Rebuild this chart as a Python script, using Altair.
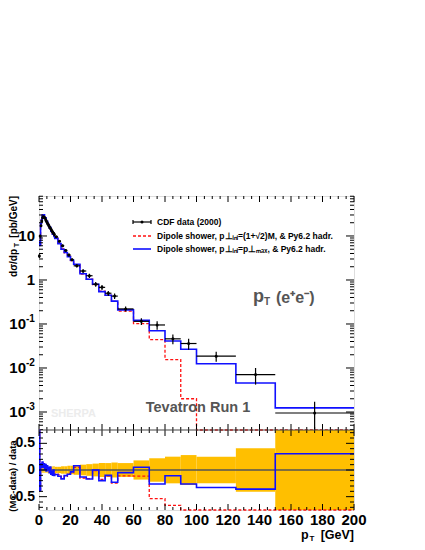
import altair as alt
import pandas as pd

# ---------------- data ----------------
edges = [0, 0.5, 1, 1.5, 2, 2.5, 3, 3.5, 4, 4.5, 5, 5.5, 6, 6.5, 7, 7.5, 8, 8.5, 9, 9.5, 10,
         12, 14, 16, 18, 20, 22, 26, 30, 34, 38, 42, 46, 50, 60, 70, 80, 90, 100, 125, 150, 200]

cdf_data = [3.5, 10, 17, 22, 26, 27.5, 27, 25.5, 23.5, 21.5, 20, 18.5, 17, 16, 15, 14, 13, 12.2, 11.5, 10.8,
            9.6, 7.6, 6.0, 4.7, 3.7, 2.9,
            2.1, 1.6, 1.25, 0.8, 0.68, 0.5, 0.43,
            0.22, 0.115, 0.095, 0.046, 0.036,
            0.0186, 0.0071, 0.00095]

cdf_rel_err = [0.10, 0.07, 0.06, 0.05, 0.05, 0.05, 0.05, 0.05, 0.05, 0.05, 0.05, 0.06, 0.06, 0.06, 0.06, 0.06,
               0.06, 0.07, 0.07, 0.07,
               0.06, 0.06, 0.07, 0.07, 0.08, 0.08,
               0.09, 0.10, 0.11, 0.12, 0.13, 0.13, 0.14,
               0.13, 0.18, 0.22, 0.25, 0.28,
               0.25, 0.41, 0.80]

dipole_pmax = [7.4, 6.1, 19.0, 23.1, 29.9, 28.9, 30.2, 26.0, 25.9, 21.1, 21.6, 18.5, 17.9, 15.2, 15.8, 12.9,
               12.7, 11.0, 11.5, 9.7,
               8.8, 6.7, 5.0, 4.2, 3.4, 2.8,
               2.27, 1.39, 1.04, 0.80, 0.544, 0.45, 0.331,
               0.209, 0.121, 0.070, 0.041, 0.0266,
               0.0125, 0.00455, 0.00124]

dipole_sqrt2 = [7.6, 6.3, 18.5, 23.5, 29.5, 29.2, 29.8, 26.3, 25.5, 21.4, 21.0, 18.8, 17.6, 15.4, 15.5, 13.1,
                12.5, 11.2, 11.3, 9.9,
                8.9, 6.9, 5.1, 4.15, 3.45, 2.75,
                2.2, 1.36, 1.05, 0.79, 0.56, 0.445, 0.325,
                0.196, 0.102, 0.044, 0.0155, 0.002,
                0, 0, 0]

# tick positions and labels
x_major = list(range(0, 201, 20))
x_major_labels = [str(v) for v in x_major]
x_minor = [v for v in range(0, 201, 5) if v % 20]
y_main_major = [0.001, 0.01, 0.1, 1, 10]
y_main_base = ["10", "10", "10", "1", "10"]
y_main_exp = ["-3", "-2", "-1", "", ""]
y_main_minor = [k * 10.0 ** e for e in range(-4, 2) for k in range(2, 10) if 3.9e-4 <= k * 10.0 ** e <= 81]
ratio_major = [-0.5, 0, 0.5]
ratio_major_labels = ["-0.5", "0", "0.5"]
ratio_minor = [-0.7, -0.6, -0.4, -0.3, -0.2, -0.1, 0.1, 0.2, 0.3, 0.4, 0.6, 0.7]

# ---------------- layout constants ----------------
W, HM, HR = 315, 234, 80
H = HM + HR
FONT = "Liberation Sans"
BLUE = "#1010ff"
RED = "#ff1010"
ORANGE = "#ffbf00"
GREY = "#555555"

bins = pd.DataFrame({"lo": edges[:-1], "hi": edges[1:], "d": cdf_data, "rel": cdf_rel_err,
                     "blue": dipole_pmax, "red": dipole_sqrt2})
bins["c"] = (bins.lo + bins.hi) / 2
bins["dlo"] = bins.d * (1 - bins.rel)
bins["dhi"] = bins.d * (1 + bins.rel)
bins["nrel"] = -bins.rel
bins["rb"] = bins.blue / bins.d - 1
bins["rr"] = bins.red / bins.d - 1


def steps(col):
    vals = list(bins[col])
    return pd.DataFrame({"x": edges, "y": vals + [vals[-1]]})


xs = alt.Scale(domain=[0, 200], nice=False, zero=False)
ys_main = alt.Scale(type="log", domain=[3.9e-4, 81], range=[HM, 0], clamp=True, nice=False)
ys_ratio = alt.Scale(domain=[-0.75, 0.75], range=[H, HM], clamp=True, nice=False, zero=False)

XN = lambda f: alt.X(f, scale=xs, axis=None)
YM = lambda f: alt.Y(f, scale=ys_main, axis=None)
YR = lambda f: alt.Y(f, scale=ys_ratio, axis=None)


def txt(s, x, y, size, color="black", align="left", angle=0, weight="bold", baseline="middle"):
    return alt.Chart(alt.Data(values=[{}])).mark_text(
        text=s, align=align, baseline=baseline, fontSize=size, fontWeight=weight,
        color=color, font=FONT, angle=angle).encode(x=alt.value(x), y=alt.value(y))


def hline(x1, x2, y, color="black", width=1.2, dash=None):
    kw = dict(color=color, strokeWidth=width)
    if dash:
        kw["strokeDash"] = dash
    return alt.Chart(alt.Data(values=[{}])).mark_rule(**kw).encode(
        x=alt.value(x1), x2=alt.value(x2), y=alt.value(y))


def vline(x, y1, y2, color="black", width=1.2):
    return alt.Chart(alt.Data(values=[{}])).mark_rule(color=color, strokeWidth=width).encode(
        x=alt.value(x), y=alt.value(y1), y2=alt.value(y2))


def xticks(vals, y1, y2):
    return alt.Chart(pd.DataFrame({"v": vals})).mark_rule(color="black", strokeWidth=1).encode(
        x=XN("v:Q"), y=alt.value(y1), y2=alt.value(y2))


def yticks(vals, Yf, L):
    df = pd.DataFrame({"v": vals})
    left = alt.Chart(df).mark_rule(color="black", strokeWidth=1).encode(
        y=Yf("v:Q"), x=alt.value(0), x2=alt.value(L))
    right = alt.Chart(df).mark_rule(color="black", strokeWidth=1).encode(
        y=Yf("v:Q"), x=alt.value(W), x2=alt.value(W - L))
    return [left, right]


LBL = dict(font=FONT, fontWeight="bold", color="black")

# ---------------- main panel ----------------
blue_main = alt.Chart(steps("blue")).mark_line(
    interpolate="step-after", color=BLUE, strokeWidth=1.6, clip=True).encode(
    x=XN("x:Q"), y=YM("y:Q"))

red_main = alt.Chart(steps("red")).transform_calculate(yy="max(datum.y, 1e-6)").mark_line(
    interpolate="step-after", color=RED, strokeWidth=1.3, strokeDash=[3, 2], clip=True).encode(
    x=XN("x:Q"), y=YM("yy:Q"))

data_h = alt.Chart(bins).mark_rule(color="black", strokeWidth=1.2).encode(
    x=XN("lo:Q"), x2="hi:Q", y=YM("d:Q"))
data_v = alt.Chart(bins).mark_rule(color="black", strokeWidth=1.2).encode(
    x=XN("c:Q"), y=YM("dlo:Q"), y2="dhi:Q")
data_p = alt.Chart(bins).mark_circle(color="black", size=9, opacity=1).encode(
    x=XN("c:Q"), y=YM("d:Q"))

# y labels of the main panel (10 with superscript exponent)
ylab = pd.DataFrame({"v": y_main_major, "base": y_main_base, "exp": y_main_exp})
ylab_plain = alt.Chart(ylab).transform_filter("datum.exp == ''").mark_text(
    align="right", baseline="middle", fontSize=15, **LBL).encode(
    y=YM("v:Q"), x=alt.value(-4), text="base:N")
ylab_base = alt.Chart(ylab).transform_filter("datum.exp != ''").mark_text(
    align="right", baseline="middle", fontSize=15, **LBL).encode(
    y=YM("v:Q"), x=alt.value(-13), text="base:N")
ylab_exp = alt.Chart(ylab).transform_filter("datum.exp != ''").mark_text(
    align="left", baseline="middle", fontSize=10, dy=-5, **LBL).encode(
    y=YM("v:Q"), x=alt.value(-13), text="exp:N")

main_layers = [red_main, blue_main, data_h, data_v, data_p, ylab_plain, ylab_base, ylab_exp,
               xticks(x_major, 0, 6), xticks(x_minor, 0, 3),
               xticks(x_major, HM, HM - 6), xticks(x_minor, HM, HM - 3)]
main_layers += yticks(y_main_major, YM, 8) + yticks(y_main_minor, YM, 4)

# texts & legend inside main panel
main_layers += [
    txt("SHERPA", 12, 218, 11, color="#ececec"),
    txt("Tevatron Run 1", 159, 212, 14.5, color=GREY, align="center"),
    txt("p", 214, 101, 18, color=GREY),
    txt("T", 225, 106, 10, color=GREY),
    txt("(e⁺e⁻)", 237, 102, 16, color=GREY),
    # legend
    hline(94, 112, 26), vline(94, 24, 28), vline(112, 24, 28),
    txt("CDF data (2000)", 118, 26, 8.5),
    hline(94, 112, 40, color=RED, width=1.3, dash=[3, 2]),
    txt("Dipole shower, p⊥ᵢₙᵢ=(1+√2)M,  & Py6.2 hadr.", 118, 40, 8.5),
    hline(94, 112, 53, color=BLUE, width=1.6),
    txt("Dipole shower, p⊥ᵢₙᵢ=p⊥ₘₐₓ,  & Py6.2 hadr.", 118, 53, 8.5),
    # y title (rotated, ends at top of frame)
    txt("[pb/GeV]", -25.5, 0, 10, align="right", angle=270),
    txt("T", -22.5, 47, 7, align="right", angle=270),
    txt("dσ/dp", -25.5, 53, 10, align="right", angle=270),
]
legend_dot = alt.Chart(alt.Data(values=[{}])).mark_circle(color="black", size=9, opacity=1).encode(
    x=alt.value(103), y=alt.value(26))
main_layers.append(legend_dot)

main = alt.layer(*main_layers)

# ---------------- ratio panel ----------------
band = alt.Chart(bins).mark_rect(color=ORANGE, stroke=None, clip=True).encode(
    x=XN("lo:Q"), x2="hi:Q", y=YR("nrel:Q"), y2="rel:Q")
zero = alt.Chart(pd.DataFrame({"z": [0]})).mark_rule(color=GREY, strokeWidth=1.5).encode(y=YR("z:Q"))
red_ratio = alt.Chart(steps("rr")).mark_line(
    interpolate="step-after", color=RED, strokeWidth=1.3, strokeDash=[3, 2]).encode(
    x=XN("x:Q"), y=YR("y:Q"))
blue_ratio = alt.Chart(steps("rb")).mark_line(
    interpolate="step-after", color=BLUE, strokeWidth=1.6).encode(
    x=XN("x:Q"), y=YR("y:Q"))

rlab = alt.Chart(pd.DataFrame({"v": ratio_major, "t": ratio_major_labels})).mark_text(
    align="right", baseline="middle", fontSize=14, **LBL).encode(
    y=YR("v:Q"), x=alt.value(-4), text="t:N")
xlab = alt.Chart(pd.DataFrame({"v": x_major, "t": x_major_labels})).mark_text(
    align="center", baseline="middle", fontSize=15, **LBL).encode(
    x=XN("v:Q"), y=alt.value(H + 10), text="t:N")

ratio_layers = [band, zero, red_ratio, blue_ratio, rlab, xlab,
                xticks(x_major, HM, HM + 6), xticks(x_minor, HM, HM + 3),
                xticks(x_major, H, H - 6), xticks(x_minor, H, H - 3)]
ratio_layers += yticks(ratio_major, YR, 8) + yticks(ratio_minor, YR, 4)
ratio_layers += [
    hline(0, W, HM, color="#444444", width=1.2),
    txt("(MC-data) / data", -26.5, 280, 9.5, align="center", angle=270),
    txt("p", 262, 339, 12.5),
    txt("T", 270.5, 342.5, 8),
    txt("[GeV]", W, 339, 12.5, align="right"),
]
ratio = alt.layer(*ratio_layers)

chart = alt.layer(main, ratio).resolve_scale(y="independent").properties(
    width=W, height=H,
    autosize=alt.AutoSizeParams(type="none"),
    padding={"left": 31, "top": 188, "right": 50, "bottom": 32},
).configure_view(stroke="black", strokeWidth=1.2).configure(background="white")

chart.save("out.html", embed_options={"renderer": "svg", "actions": False})
